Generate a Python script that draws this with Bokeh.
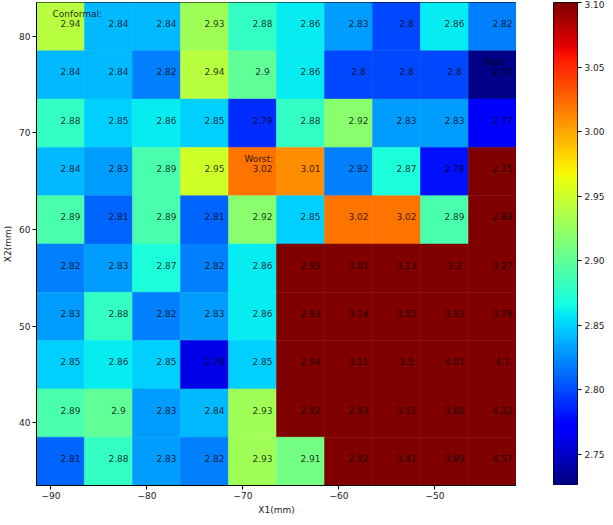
import numpy as np
from bokeh.plotting import figure
from bokeh.layouts import row
from bokeh.models import (ColumnDataSource, LinearColorMapper, Range1d, FixedTicker,
                          PrintfTickFormatter)
from bokeh.transform import transform
from bokeh.core.properties import value
from bokeh.embed import file_html
from bokeh.resources import INLINE

# ---------------- data ----------------
x_centers = [-89, -84, -79, -74, -69, -64, -59, -54, -49, -44]
y_centers = [81, 76, 71, 66, 61, 56, 51, 46, 41, 36]   # top row first

values = [
    [2.94, 2.84, 2.84, 2.93, 2.88, 2.86, 2.83, 2.80, 2.86, 2.82],
    [2.84, 2.84, 2.82, 2.94, 2.90, 2.86, 2.80, 2.80, 2.80, 2.73],
    [2.88, 2.85, 2.86, 2.85, 2.79, 2.88, 2.92, 2.83, 2.83, 2.77],
    [2.84, 2.83, 2.89, 2.95, 3.02, 3.01, 2.82, 2.87, 2.78, 2.75],
    [2.89, 2.81, 2.89, 2.81, 2.92, 2.85, 3.02, 3.02, 2.89, 2.88],
    [2.82, 2.83, 2.87, 2.82, 2.86, 2.95, 3.01, 3.13, 3.20, 3.27],
    [2.83, 2.88, 2.82, 2.83, 2.86, 2.83, 3.14, 3.55, 3.92, 3.76],
    [2.85, 2.86, 2.85, 2.76, 2.85, 2.94, 3.11, 3.50, 4.01, 4.10],
    [2.89, 2.90, 2.83, 2.84, 2.93, 2.92, 2.93, 3.51, 3.86, 4.32],
    [2.81, 2.88, 2.83, 2.82, 2.93, 2.91, 2.92, 3.41, 3.89, 4.57],
]

# cells drawn in the saturated (out-of-limit) colour
flagged = [
    [0, 0, 0, 0, 0, 0, 0, 0, 0, 0],
    [0, 0, 0, 0, 0, 0, 0, 0, 0, 0],
    [0, 0, 0, 0, 0, 0, 0, 0, 0, 0],
    [0, 0, 0, 0, 0, 0, 0, 0, 0, 1],
    [0, 0, 0, 0, 0, 0, 0, 0, 0, 1],
    [0, 0, 0, 0, 0, 1, 1, 1, 1, 1],
    [0, 0, 0, 0, 0, 1, 1, 1, 1, 1],
    [0, 0, 0, 0, 0, 1, 1, 1, 1, 1],
    [0, 0, 0, 0, 0, 1, 1, 1, 1, 1],
    [0, 0, 0, 0, 0, 0, 1, 1, 1, 1],
]

annotations = [("Conformal:", 0, 0), ("Best:", 1, 9), ("Worst:", 3, 4)]  # (text, row, col)

color_low, color_high = 2.726, 3.10
cbar_ticks = [2.75, 2.80, 2.85, 2.90, 2.95, 3.00, 3.05, 3.10]
x_ticks = [-90, -80, -70, -60, -50]
y_ticks = [40, 50, 60, 70, 80]

# ---------------- jet palette ----------------
def jet_palette(n=256):
    t = np.linspace(0, 1, n)
    r = np.interp(t, [0, 0.35, 0.66, 0.89, 1], [0, 0, 1, 1, 0.5])
    g = np.interp(t, [0, 0.125, 0.375, 0.64, 0.91, 1], [0, 0, 1, 1, 0, 0])
    b = np.interp(t, [0, 0.11, 0.34, 0.65, 1], [0.5, 1, 1, 0, 0])
    return ["#%02x%02x%02x" % (int(round(a * 255)), int(round(c * 255)), int(round(d * 255)))
            for a, c, d in zip(r, g, b)]

palette = jet_palette()

xs, ys, vals, cvals, labels = [], [], [], [], []
for i, yc in enumerate(y_centers):
    for j, xc in enumerate(x_centers):
        v = values[i][j]
        xs.append(xc)
        ys.append(yc)
        vals.append(v)
        cvals.append(color_high + 1.0 if flagged[i][j] else v)
        labels.append(f"{v:g}")

src = ColumnDataSource(dict(x=xs, y=ys, v=vals, c=cvals, lab=labels))

ann_src = ColumnDataSource(dict(
    x=[x_centers[c] for _, r, c in annotations],
    y=[y_centers[r] for _, r, c in annotations],
    t=[t for t, _, _ in annotations],
))

mapper = LinearColorMapper(palette=palette, low=color_low, high=color_high)

dx = x_centers[1] - x_centers[0]
dy = y_centers[0] - y_centers[1]

FRAME_H = 483

p = figure(frame_width=480, frame_height=FRAME_H,
           x_range=Range1d(min(x_centers) - dx / 2, max(x_centers) + dx / 2),
           y_range=Range1d(min(y_centers) - dy / 2, max(y_centers) + dy / 2),
           output_backend="svg", toolbar_location=None,
           min_border_left=0, min_border_right=0, min_border_top=2, min_border_bottom=0)

p.rect(x="x", y="y", width=dx, height=dy, source=src,
       fill_color=transform("c", mapper), line_color=transform("c", mapper), line_width=0.5)

p.text(x="x", y="y", text="lab", source=src, text_align="center", text_baseline="middle",
       x_offset=10, y_offset=-3, text_font=value("DejaVu Sans"), text_font_size="9px",
       text_color="black", text_alpha=0.8)

p.text(x="x", y="y", text="t", source=ann_src, text_align="left", text_baseline="middle",
       x_offset=-8, y_offset=-13, text_font=value("DejaVu Sans"), text_font_size="9px",
       text_color="black", text_alpha=0.85)

p.grid.visible = False
p.outline_line_color = "black"
p.outline_line_width = 1


def style_axis(ax):
    ax.minor_tick_line_color = None
    ax.major_tick_out = 4
    ax.major_tick_in = 0
    ax.major_label_standoff = 2
    ax.axis_label_standoff = 3
    ax.major_label_text_font = "DejaVu Sans"
    ax.major_label_text_font_size = "9px"
    ax.axis_label_text_font = "DejaVu Sans"
    ax.axis_label_text_font_size = "9px"
    ax.axis_label_text_font_style = "normal"
    ax.major_label_text_color = "#222222"
    ax.axis_label_text_color = "#222222"
    ax.axis_line_color = "black"


p.xaxis.ticker = FixedTicker(ticks=x_ticks)
p.yaxis.ticker = FixedTicker(ticks=y_ticks)
style_axis(p.xaxis[0])
style_axis(p.yaxis[0])
p.xaxis.axis_label = "X1(mm)"
p.yaxis.axis_label = "X2(mm)"

# ---------------- colour bar as its own small figure ----------------
cb = figure(frame_width=24, frame_height=FRAME_H,
            x_range=Range1d(0, 1), y_range=Range1d(color_low, color_high),
            x_axis_location=None, y_axis_location="right",
            output_backend="svg", toolbar_location=None,
            min_border_left=37, min_border_right=0, min_border_top=2, min_border_bottom=0)
grad = np.linspace(color_low, color_high, 512).reshape(-1, 1)
cb.image(image=[grad], x=0, y=color_low, dw=1, dh=color_high - color_low, color_mapper=mapper)
cb.grid.visible = False
cb.outline_line_color = "black"
cb.yaxis.ticker = FixedTicker(ticks=cbar_ticks)
cb.yaxis.formatter = PrintfTickFormatter(format="%.2f")
style_axis(cb.yaxis[0])
cb.yaxis.major_label_standoff = 3
cb.yaxis.axis_line_color = None

layout = row(p, cb, spacing=0)

open("out.html", "w").write(file_html(layout, INLINE))
